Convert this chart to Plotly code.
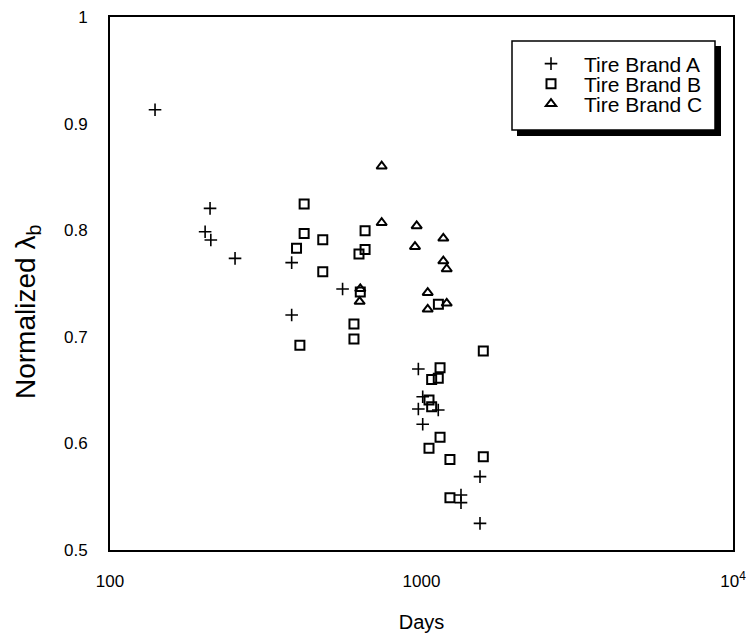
import plotly.graph_objects as go

# Brand A (+)
a_days = [139.5, 209.5, 202, 210.7, 252, 383, 383, 558, 977, 1009, 977, 1132, 1009, 1541, 1339, 1339, 1541]
a_vals = [0.913, 0.8205, 0.7986, 0.7908, 0.7736, 0.7696, 0.7205, 0.7448, 0.6698, 0.6438, 0.6323, 0.6313, 0.618, 0.5688, 0.5516, 0.5444, 0.525]
# Brand B (square)
b_days = [420, 420, 397, 482, 482, 659, 659, 630, 636, 607, 607, 407, 1133, 1579, 1147, 1078, 1132, 1057, 1078, 1147, 1057, 1234, 1579, 1234]
b_vals = [0.8246, 0.797, 0.783, 0.791, 0.761, 0.7995, 0.782, 0.7777, 0.742, 0.712, 0.698, 0.692, 0.7305, 0.6867, 0.671, 0.660, 0.661, 0.6407, 0.6344, 0.6057, 0.5954, 0.585, 0.5875, 0.549]
# Brand C (triangle)
c_days = [745, 745, 636, 633, 965, 953, 1175, 1175, 1205, 1047, 1047, 1205]
c_vals = [0.860, 0.807, 0.745, 0.733, 0.804, 0.7845, 0.7924, 0.771, 0.7636, 0.7414, 0.7258, 0.7314]

series_names = ["Tire Brand A", "Tire Brand B", "Tire Brand C"]
x_tickvals = [100, 1000, 10000]
x_ticktext = ["100", "1000", "10<sup>4</sup>"]
y_tickvals = [0.5, 0.6, 0.7, 0.8, 0.9, 1.0]
y_ticktext = ["0.5", "0.6", "0.7", "0.8", "0.9", "1"]

FONT = "Arial, Liberation Sans, sans-serif"

fig = go.Figure()
fig.add_trace(go.Scatter(x=a_days, y=a_vals, mode="markers", name=series_names[0],
                         marker=dict(symbol="cross-thin-open", size=9, color="black",
                                     line=dict(color="black", width=1.6)),
                         legend="legend"))
fig.add_trace(go.Scatter(x=b_days, y=b_vals, mode="markers", name=series_names[1],
                         marker=dict(symbol="square-open", size=9, color="black",
                                     line=dict(color="black", width=2)),
                         legend="legend2"))
fig.add_trace(go.Scatter(x=c_days, y=c_vals, mode="markers", name=series_names[2],
                         marker=dict(symbol="triangle-up-open", size=9, color="black",
                                     line=dict(color="black", width=2)),
                         legend="legend3"))

L, R, T, B = 110, 13, 17, 88
W, H = 746, 638
pw, ph = W - L - R, H - T - B

def px_x(p):
    return (p - L) / pw

def px_y(p):
    return (H - B - p) / ph

leg_common = dict(bgcolor="rgba(0,0,0,0)", borderwidth=0, xanchor="left", yanchor="middle",
                  itemwidth=56,
                  font=dict(family=FONT, size=21, color="black"))
leg_x = px_x(518)

fig.update_layout(
    width=W, height=H,
    margin=dict(l=L, r=R, t=T, b=B, autoexpand=False),
    paper_bgcolor="white", plot_bgcolor="white",
    font=dict(family=FONT, color="black"),
    showlegend=True,
    legend=dict(x=leg_x, y=px_y(64), **leg_common),
    legend2=dict(x=leg_x, y=px_y(84), **leg_common),
    legend3=dict(x=leg_x, y=px_y(104), **leg_common),
    xaxis=dict(type="log", range=[2, 4], tickvals=x_tickvals, ticktext=x_ticktext,
               automargin=False, ticklabeloverflow="allow",
               showgrid=False, zeroline=False, showline=True, linecolor="black", linewidth=2,
               mirror=True, ticks="", tickfont=dict(family=FONT, size=17, color="black"),
               ticklabelstandoff=15,
               title=dict(text="Days", font=dict(family=FONT, size=20, color="black"), standoff=25)),
    yaxis=dict(range=[0.5, 1.0], tickvals=y_tickvals, ticktext=y_ticktext,
               automargin=False,
               showgrid=False, zeroline=False, showline=True, linecolor="black", linewidth=2,
               mirror=True, ticks="", tickfont=dict(family=FONT, size=17, color="black"),
               ticklabelstandoff=17),
    shapes=[
        dict(type="rect", xref="paper", yref="paper",
             x0=px_x(517), x1=px_x(721), y0=px_y(136), y1=px_y(46),
             fillcolor="black", line=dict(width=0), layer="below"),
        dict(type="rect", xref="paper", yref="paper",
             x0=px_x(512), x1=px_x(715), y0=px_y(130), y1=px_y(41),
             fillcolor="white", line=dict(color="black", width=1.5), layer="below"),
    ],
    annotations=[
        dict(text="Normalized λ<sub>b</sub>", xref="paper", yref="paper",
             x=px_x(27), y=px_y(312), xanchor="center", yanchor="middle",
             textangle=-90, showarrow=False,
             font=dict(family=FONT, size=28, color="black")),
    ],
)

fig.write_html("out.html")
